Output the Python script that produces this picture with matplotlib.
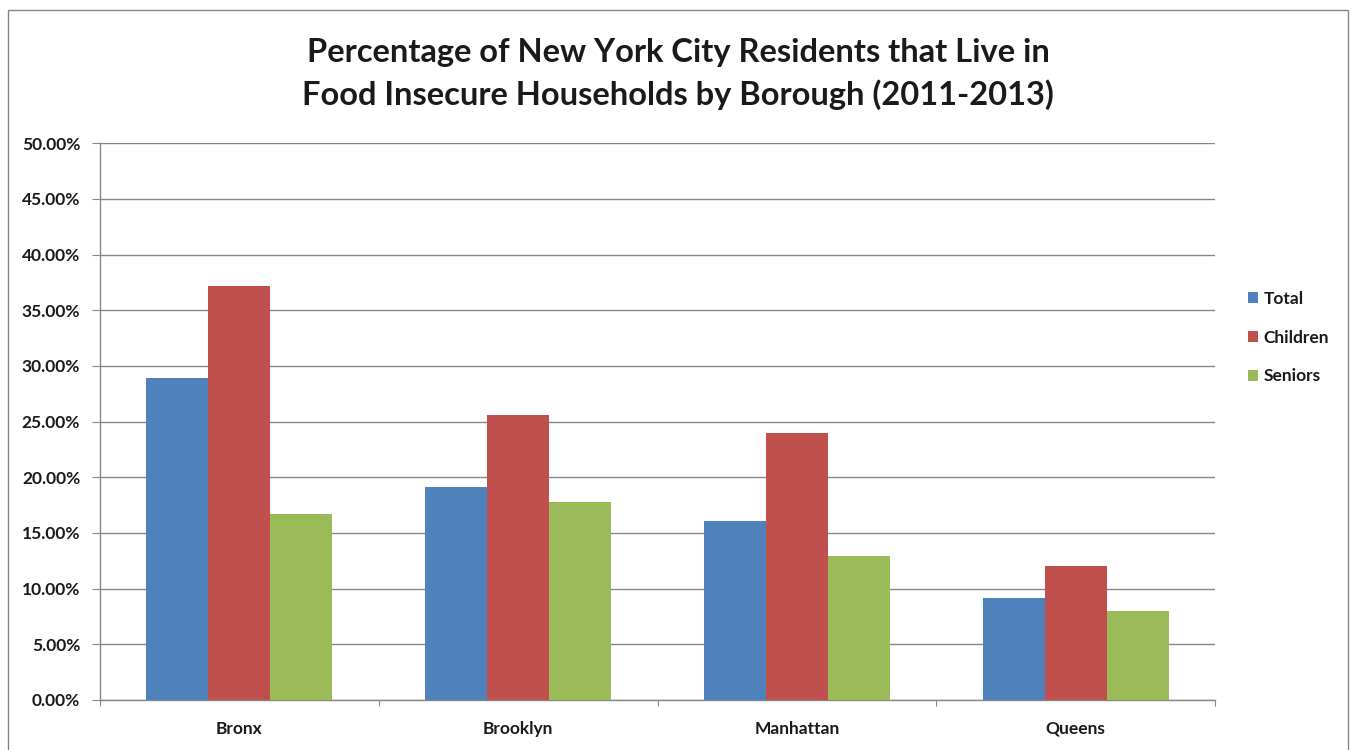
import numpy as np
import matplotlib.pyplot as plt
from matplotlib.patches import Rectangle
from matplotlib.ticker import FuncFormatter, MultipleLocator

# Food insecurity rates by borough, 2011-2013 (percent)
boroughs = ['Bronx', 'Brooklyn', 'Manhattan', 'Queens']
total = [28.9, 19.1, 16.1, 9.2]
children = [37.2, 25.6, 24.0, 12.0]
seniors = [16.7, 17.8, 12.9, 8.0]

series = [('Total', total, '#4F81BD'),
          ('Children', children, '#C0504D'),
          ('Seniors', seniors, '#9BBB59')]

plt.rcParams['font.family'] = ['Lato', 'DejaVu Sans']

W, H = 1353, 750
fig = plt.figure(figsize=(W / 100, H / 100), dpi=100)
fig.patch.set_facecolor('white')

# chart-area frame
fig.patches.append(Rectangle((8 / W, -0.05), 1340 / W, 1.05 - 10 / H,
                             transform=fig.transFigure, fill=False,
                             edgecolor='#868686', linewidth=1.0))

ax = fig.add_axes([100 / W, 1 - 700 / H, 1115 / W, (700 - 143.3) / H])

x = np.arange(len(boroughs))
w = 1 / 4.5  # Excel gap width of 150%
for i, (name, vals, col) in enumerate(series):
    ax.bar(x + (i - 1) * w, vals, width=w, color=col, label=name, zorder=3)

ax.set_xlim(-0.5, len(boroughs) - 0.5)
ax.set_ylim(0, 50)
ax.yaxis.set_major_locator(MultipleLocator(5))
ax.yaxis.set_major_formatter(FuncFormatter(lambda v, p: f'{v:.2f}%'))
ax.grid(axis='y', color='#868686', linewidth=1.0, zorder=0)

ax.set_xticks(np.arange(-0.5, len(boroughs)), minor=False)
ax.set_xticklabels([])
ax.set_xticks(x, minor=True)
ax.set_xticklabels(boroughs, minor=True)
ax.tick_params(axis='x', which='major', length=4.5, direction='out', color='#868686')
ax.tick_params(axis='x', which='minor', length=0, pad=15, labelsize=12.5)
ax.tick_params(axis='y', length=5.8, direction='out', color='#868686',
               pad=8.5, labelsize=12.5)
for lab in ax.get_xticklabels(minor=True) + ax.get_yticklabels():
    lab.set_fontweight('bold')
    lab.set_color('#1a1a1a')

for s in ['top', 'right']:
    ax.spines[s].set_visible(False)
for s in ['left', 'bottom']:
    ax.spines[s].set_color('#868686')
    ax.spines[s].set_linewidth(1.0)

leg = fig.legend(loc='upper left', bbox_to_anchor=(1232 / W, 1 - 275 / H),
                 frameon=False, handlelength=0.6, handleheight=0.6,
                 handletextpad=0.3, labelspacing=1.32, fontsize=12.5)
for t in leg.get_texts():
    t.set_fontweight('bold')
    t.set_color('#1a1a1a')

fig.text(678 / W, 1 - 74 / H,
         'Percentage of New York City Residents that Live in\n'
         'Food Insecure Households by Borough (2011-2013)',
         ha='center', va='center', fontsize=23.5, fontweight='bold',
         color='#1a1a1a', linespacing=1.5)

fig.savefig('out.png', dpi=100)
